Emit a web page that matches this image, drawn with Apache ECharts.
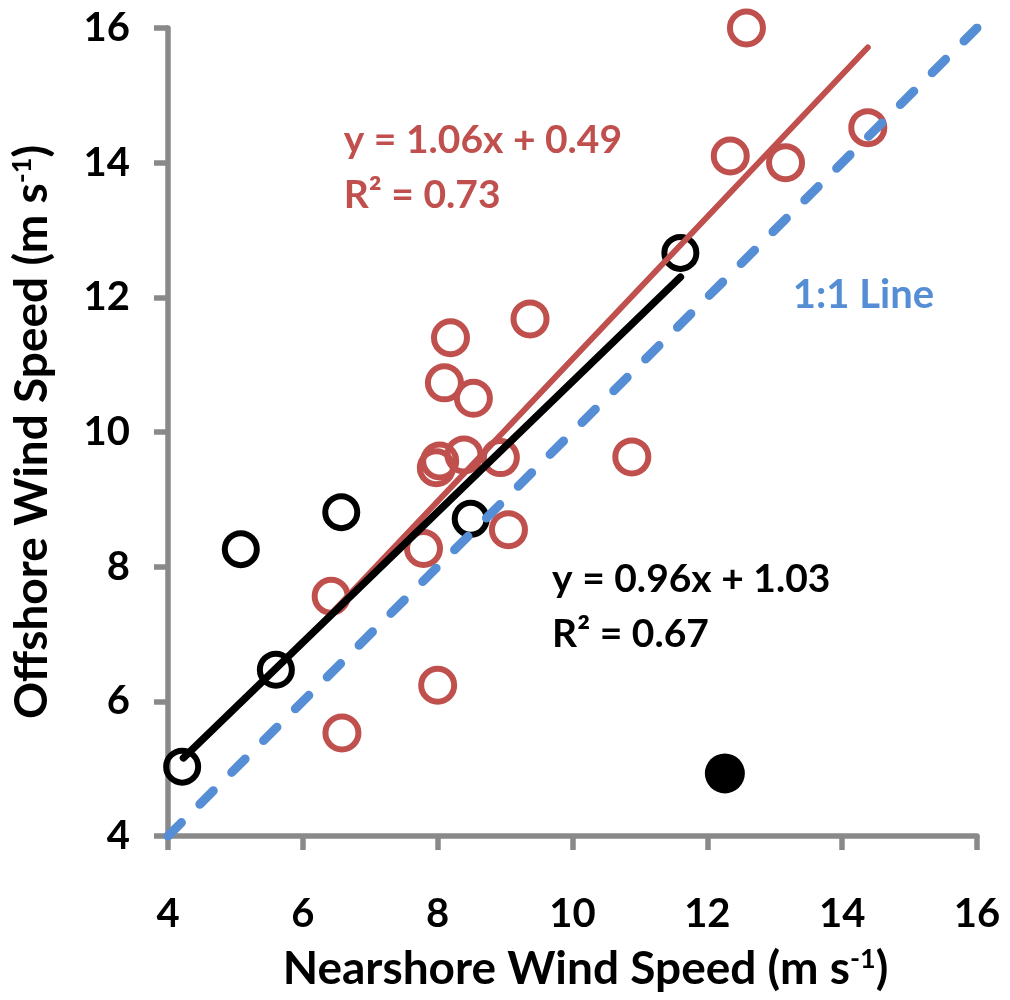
<!DOCTYPE html>
<html>
<head>
<meta charset="utf-8">
<script src="https://cdn.jsdelivr.net/npm/echarts@6/dist/echarts.min.js"></script>
<style>
html,body{margin:0;padding:0;background:#fff;}
#chart{width:1010px;height:1000px;}
</style>
</head>
<body>
<div id="chart"></div>
<script>
// ---- Data ----
var redX = [12.58, 14.38, 12.34, 13.16, 9.37, 10.88, 8.19, 8.10, 8.53, 7.98, 8.03, 8.39, 8.93, 9.05, 7.79, 6.42, 8.00, 6.58];
var redY = [16.00, 14.52, 14.10, 14.00, 11.68, 9.63, 11.40, 10.73, 10.50, 9.47, 9.57, 9.66, 9.62, 8.55, 8.27, 7.56, 6.24, 5.53];
var blackX = [11.60, 5.08, 6.57, 8.49, 5.60, 4.21];
var blackY = [12.66, 8.26, 8.81, 8.71, 6.47, 5.03];
var filledX = [12.26];
var filledY = [4.93];
var redTrendX = [6.42, 14.38];
var redTrendY = [7.30, 15.71];
var blackTrendX = [4.23, 11.60];
var blackTrendY = [5.16, 12.30];
var oneToOneX = [4, 16];
var oneToOneY = [4, 16];
var axisMin = 4, axisMax = 16, axisStep = 2;
var xTitle = 'Nearshore Wind Speed (m s{sup|-1})';
var yTitle = 'Offshore Wind Speed (m s{sup|-1})';
var redEq = ['y = 1.06x + 0.49', 'R² = 0.73'];
var blackEq = ['y = 0.96x + 1.03', 'R² = 0.67'];
var lineLabel = '1:1 Line';
var redEqPos = [6.60, 13.92];
var blackEqPos = [9.69, 7.40];
var lineLabelPos = [13.26, 12.04];

function pairs(xs, ys){ return xs.map(function(x,i){ return [x, ys[i]]; }); }

var FONT = 'Lato';
var RED = '#C0504D', BLUE = '#558ED5', GRAY = '#898989';

var chart = echarts.init(document.getElementById('chart'), null, {renderer:'canvas'});

function axis(name, isX){
  return {
    type:'value', min:axisMin, max:axisMax, interval:axisStep,
    name:name, nameLocation:'middle',
    nameGap: isX ? 110 : 112,
    nameTextStyle:{fontFamily:FONT, fontWeight:'bold', fontSize:46, color:'#000',
      padding: isX ? [0,0,0,26] : [0,0,0,0],
      rich:{sup:{fontFamily:FONT, fontWeight:'bold', fontSize:27, color:'#000', verticalAlign:'top', padding:[0,0,20,0]}}},
    axisLine:{show:true, onZero:false, lineStyle:{color:GRAY, width:5.5, cap:'round'}},
    axisTick:{show:true, inside:false, length:14, lineStyle:{color:GRAY, width:5.5}},
    splitLine:{show:false},
    axisLabel:{fontFamily:FONT, fontWeight:'bold', fontSize:40, color:'#000', margin: isX ? 58 : 38}
  };
}

function annot(pos, text, color, size){
  return {
    type:'scatter', data:[pos], symbolSize:1, itemStyle:{color:'transparent', opacity:1}, silent:true, z:10,
    label:{show:true, position:'right', distance:0, formatter:text, color:color, opacity:1,
      fontFamily:FONT, fontWeight:'bold', fontSize:size, lineHeight:55}
  };
}

chart.setOption({
  animation:false,
  backgroundColor:'#fff',
  grid:{left:168, right:33, top:28, bottom:164, containLabel:false},
  xAxis: axis(xTitle, true),
  yAxis: axis(yTitle, false),
  series:[
    {type:'scatter', data:pairs(redX, redY), symbol:'circle', symbolSize:33, z:2,
      itemStyle:{color:'rgba(0,0,0,0)', borderColor:RED, borderWidth:6, opacity:1}},
    {type:'scatter', data:pairs(blackX, blackY), symbol:'circle', symbolSize:32, z:2,
      itemStyle:{color:'rgba(0,0,0,0)', borderColor:'#000', borderWidth:6, opacity:1}},
    {type:'scatter', data:pairs(filledX, filledY), symbol:'circle', symbolSize:40, z:2,
      itemStyle:{color:'#000', opacity:1}},
    {type:'line', data:pairs(redTrendX, redTrendY), symbol:'none', z:3,
      lineStyle:{color:RED, width:6, cap:'round'}},
    {type:'line', data:pairs(blackTrendX, blackTrendY), symbol:'none', z:4,
      lineStyle:{color:'#000', width:7.5, cap:'round'}},
    {type:'line', data:pairs(oneToOneX, oneToOneY), symbol:'none', z:5,
      lineStyle:{color:BLUE, width:9, type:[19,26], cap:'round'}},
    annot(redEqPos, redEq.join('\n'), RED, 39),
    annot(blackEqPos, blackEq.join('\n'), '#000', 39),
    annot(lineLabelPos, lineLabel, BLUE, 40)
  ]
});
</script>
</body>
</html>
